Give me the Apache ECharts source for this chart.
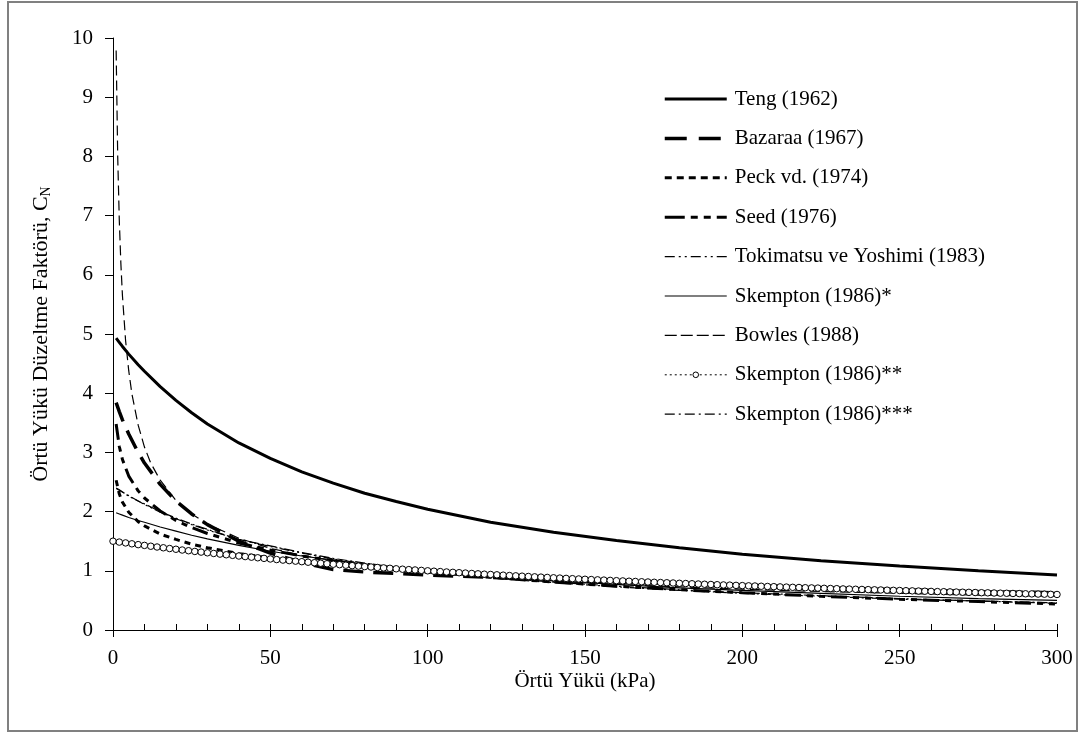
<!DOCTYPE html>
<html>
<head>
<meta charset="utf-8">
<style>
html,body{margin:0;padding:0;background:#fff;}
#chart{width:1085px;height:733px;}
</style>
<script src="https://cdn.jsdelivr.net/npm/echarts@6/dist/echarts.min.js"></script>
</head>
<body>
<div id="chart"></div>
<script>
// ---- data ----
const seriesNames = ['Teng (1962)','Bazaraa (1967)','Peck vd. (1974)','Seed (1976)','Tokimatsu ve Yoshimi (1983)','Skempton (1986)*','Bowles (1988)','Skempton (1986)**','Skempton (1986)***'];

const xTicksMajor = [0,50,100,150,200,250,300];
const yTicks = [0,1,2,3,4,5,6,7,8,9,10];

// common overburden pressures (kPa)
const sigma = [1,2,3,5,8,10,15,20,25,30,40,50,60,70,80,90,100,120,140,160,180,200,225,250,275,300];

const teng      = [4.93,4.86,4.79,4.66,4.48,4.37,4.11,3.88,3.67,3.48,3.16,2.90,2.67,2.48,2.31,2.17,2.04,1.82,1.65,1.51,1.39,1.28,1.17,1.08,1.00,0.93];
const bazaraa   = [3.84,3.69,3.55,3.31,3.00,2.82,2.46,2.18,1.96,1.78,1.50,1.30,1.14,1.02,0.98,0.955,0.93,0.89,0.85,0.81,0.78,0.75,0.71,0.68,0.65,0.63];
const peck      = [2.53,2.30,2.16,1.99,1.83,1.76,1.62,1.53,1.45,1.39,1.29,1.22,1.16,1.11,1.06,1.02,0.99,0.93,0.88,0.83,0.79,0.76,0.72,0.68,0.65,0.62];
const seed      = [3.48,3.10,2.88,2.60,2.35,2.23,2.01,1.85,1.73,1.63,1.47,1.35,1.25,1.17,1.10,1.03,0.98,0.89,0.81,0.74,0.68,0.63,0.57,0.52,0.48,0.44];
const tokimatsu = [2.39,2.36,2.33,2.26,2.18,2.12,1.99,1.88,1.78,1.69,1.53,1.41,1.30,1.20,1.12,1.05,0.99,0.88,0.80,0.73,0.67,0.62,0.57,0.52,0.49,0.45];
const skempton1 = [1.98,1.96,1.94,1.90,1.85,1.82,1.74,1.67,1.60,1.54,1.43,1.33,1.25,1.18,1.11,1.05,1.00,0.91,0.83,0.77,0.71,0.67,0.62,0.57,0.53,0.50];
const skempton3 = [2.40,2.37,2.33,2.27,2.18,2.13,2.00,1.89,1.79,1.70,1.53,1.42,1.31,1.21,1.13,1.06,1.00,0.89,0.81,0.74,0.68,0.63,0.58,0.53,0.49,0.46];

const bowlesSigma = [1,1.5,2,2.5,3,4,5,6,8,10,12,15,20,25,30,40,50,60,70,80,90,100,120,140,160,180,200,225,250,275,300];
const bowles      = [9.79,7.99,6.92,6.19,5.65,4.89,4.38,3.99,3.46,3.09,2.82,2.53,2.19,1.96,1.79,1.55,1.38,1.26,1.17,1.09,1.03,0.98,0.89,0.83,0.77,0.73,0.69,0.65,0.62,0.59,0.57];

// Skempton (1986)** : one value every 2 kPa from 0 to 300
const skempton2Step = 2;
const skempton2 = [1.500,1.485,1.471,1.456,1.442,1.429,1.415,1.402,1.389,1.376,1.364,1.351,1.339,1.327,1.316,1.304,1.293,1.282,1.271,1.261,
1.250,1.240,1.230,1.220,1.210,1.200,1.190,1.181,1.172,1.163,1.154,1.145,1.136,1.128,1.119,1.111,1.103,1.095,1.087,1.079,
1.071,1.064,1.056,1.049,1.042,1.034,1.027,1.020,1.014,1.007,1.000,0.993,0.987,0.980,0.974,0.968,0.962,0.955,0.949,0.943,
0.938,0.932,0.926,0.920,0.915,0.909,0.904,0.898,0.893,0.888,0.882,0.877,0.872,0.867,0.862,0.857,0.852,0.847,0.843,0.838,
0.833,0.829,0.824,0.820,0.815,0.811,0.806,0.802,0.798,0.794,0.789,0.785,0.781,0.777,0.773,0.769,0.765,0.761,0.758,0.754,
0.750,0.746,0.743,0.739,0.735,0.732,0.728,0.725,0.721,0.718,0.714,0.711,0.708,0.704,0.701,0.698,0.694,0.691,0.688,0.685,
0.682,0.679,0.676,0.673,0.670,0.667,0.664,0.661,0.658,0.655,0.652,0.649,0.647,0.644,0.641,0.638,0.636,0.633,0.630,0.628,
0.625,0.622,0.620,0.617,0.615,0.612,0.610,0.607,0.605,0.602,0.600];

// ---- build ----
const pair = (xs, ys) => ys.map((v, i) => [xs[i], v]);
const skempton2Pts = skempton2.map((v, i) => [i * skempton2Step, v]);

const FONT = "'Liberation Serif','Times New Roman',serif";
const chart = echarts.init(document.getElementById('chart'), null, {renderer: 'canvas'});

// line styles: [width, plot dash, legend dash]
const styles = [
  [3,   'solid',               'solid'],
  [3.5, [20, 10],              [22, 12]],
  [3,   [6, 5],                [7, 5]],
  [3,   [16, 6, 6, 6, 6, 6],   [20, 6, 7, 6, 7, 6]],
  [1.2, [9, 3, 2, 3, 2, 3],    [10, 4, 2, 4, 2, 4]],
  [1.2, 'solid',               'solid'],
  [1.2, [10, 5],               [12, 4]],
  [1,   [2, 3],                [2, 3]],
  [1.2, [10, 3, 2, 3],         [10, 4, 2, 4]]
];

function lineSeries(idx, data, extra) {
  return Object.assign({
    name: seriesNames[idx],
    type: 'line',
    data: data,
    xAxisIndex: 0,
    yAxisIndex: 0,
    symbol: 'none',
    smooth: false,
    lineStyle: {color: '#000', width: styles[idx][0], type: styles[idx][1]},
    itemStyle: {color: '#000'},
    emphasis: {disabled: true},
    silent: true
  }, extra || {});
}

const legendData = seriesNames.map((n, i) => {
  const item = {
    name: n,
    lineStyle: {color: '#000', width: styles[i][0], type: styles[i][2]},
    itemStyle: {opacity: 0}
  };
  if (i === 7) item.itemStyle = {opacity: 1, color: '#fff', borderColor: '#000', borderWidth: 1};
  return item;
});

const option = {
  animation: false,
  backgroundColor: '#fff',
  graphic: [{
    type: 'rect',
    shape: {x: 8, y: 2, width: 1069, height: 729},
    style: {fill: 'none', stroke: '#808080', lineWidth: 2},
    silent: true, z: -1
  }],
  grid: {left: 113, right: 28, top: 38, bottom: 103, containLabel: false},
  legend: {
    orient: 'vertical',
    left: 663,
    top: 88.5,
    padding: 0,
    itemWidth: 62,
    itemHeight: 7,
    itemGap: 18.4,
    selectedMode: false,
    data: legendData,
    textStyle: {fontFamily: FONT, fontSize: 21, color: '#000', lineHeight: 21, padding: [0, 0, 0, 3]}
  },
  xAxis: [{
    type: 'value',
    min: 0, max: 300, interval: 50,
    axisLine: {show: true, onZero: false, lineStyle: {color: '#000', width: 1}},
    axisTick: {show: true, inside: false, length: 7, lineStyle: {color: '#000', width: 1}},
    axisLabel: {fontFamily: FONT, fontSize: 21, color: '#000', margin: 18,
      formatter: v => (xTicksMajor.indexOf(v) >= 0 ? String(v) : '')},
    splitLine: {show: false},
    name: 'Örtü Yükü (kPa)',
    nameLocation: 'middle',
    nameGap: 41,
    nameMoveOverlap: false,
    nameTextStyle: {fontFamily: FONT, fontSize: 21, color: '#000', verticalAlign: 'top'}
  }, {
    type: 'value',
    min: 0, max: 300, interval: 10,
    position: 'bottom',
    axisLine: {show: false},
    axisTick: {show: true, inside: true, length: 6, lineStyle: {color: '#000', width: 1}},
    axisLabel: {show: false},
    splitLine: {show: false}
  }],
  yAxis: [{
    type: 'value',
    min: 0, max: 10, interval: 1,
    axisLine: {show: true, onZero: false, lineStyle: {color: '#000', width: 1}},
    axisTick: {show: true, inside: false, length: 8, lineStyle: {color: '#000', width: 1}},
    axisLabel: {fontFamily: FONT, fontSize: 21, color: '#000', margin: 20,
      formatter: v => (yTicks.indexOf(v) >= 0 ? String(v) : '')},
    splitLine: {show: false},
    name: 'Örtü Yükü Düzeltme Faktörü, C{sub|N}',
    nameLocation: 'middle',
    nameGap: 60,
    nameMoveOverlap: false,
    nameTextStyle: {fontFamily: FONT, fontSize: 22, color: '#000',
      rich: {sub: {fontFamily: FONT, fontSize: 14, color: '#000', verticalAlign: 'bottom', padding: [10, 0, 0, 0]}}}
  }],
  series: [
    lineSeries(0, pair(sigma, teng)),
    lineSeries(1, pair(sigma, bazaraa)),
    lineSeries(2, pair(sigma, peck)),
    lineSeries(3, pair(sigma, seed)),
    lineSeries(4, pair(sigma, tokimatsu)),
    lineSeries(5, pair(sigma, skempton1)),
    lineSeries(6, pair(bowlesSigma, bowles)),
    lineSeries(7, skempton2Pts, {
      symbol: 'circle', symbolSize: 6.5, showSymbol: true, showAllSymbol: true,
      itemStyle: {color: '#fff', borderColor: '#000', borderWidth: 1}
    }),
    lineSeries(8, pair(sigma, skempton3))
  ]
};
chart.setOption(option);
</script>
</body>
</html>
